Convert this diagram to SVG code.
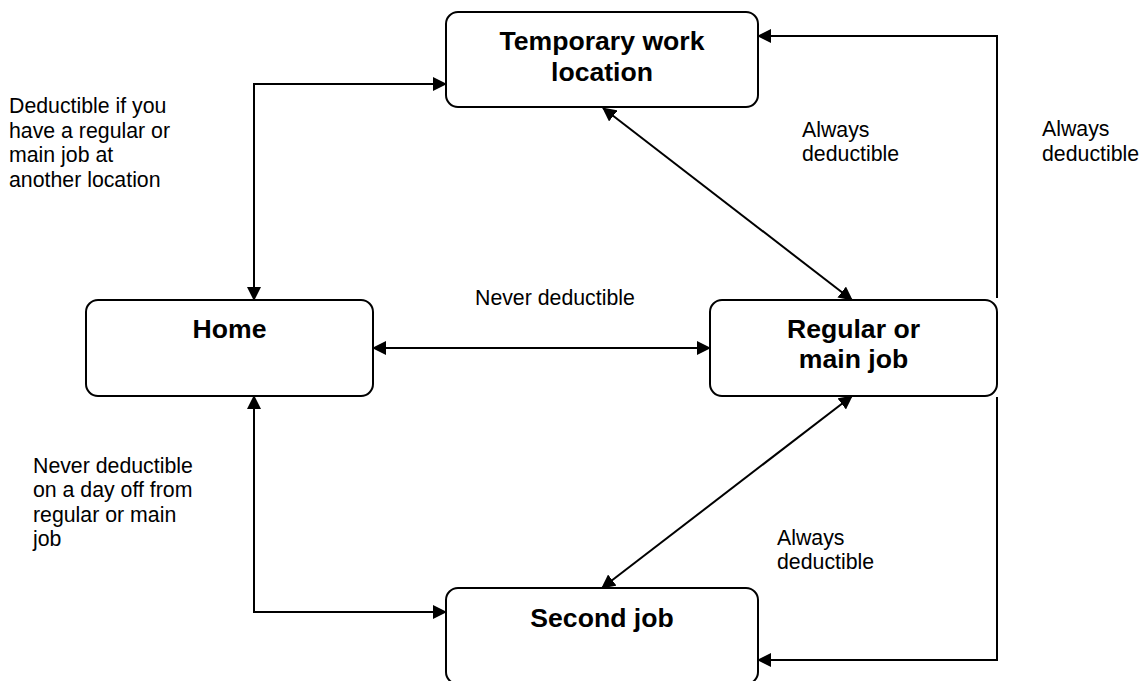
<svg xmlns="http://www.w3.org/2000/svg" width="1140" height="681" viewBox="0 0 1140 681">
<style>
.box{fill:#fff;stroke:#000;stroke-width:2}
.t{font-family:"Liberation Sans",Arial,sans-serif;font-weight:bold;font-size:26.6px;fill:#000;text-anchor:middle}
.l{font-family:"Liberation Sans",Arial,sans-serif;font-size:21.3px;fill:#000}
.c{fill:none;stroke:#000;stroke-width:2}
</style>
<defs>
<marker id="ah" viewBox="0 0 14 14" refX="13" refY="7" markerWidth="14" markerHeight="14" markerUnits="userSpaceOnUse" orient="auto-start-reverse">
<path d="M0,0 L14,7 L0,14 z" fill="#000"/>
</marker>
</defs>
<rect width="1140" height="681" fill="#fff"/>
<g id="connectors">
<path class="c" d="M254,300 V84 H446" marker-start="url(#ah)" marker-end="url(#ah)"/>
<path class="c" d="M254,396 V612 H446" marker-start="url(#ah)" marker-end="url(#ah)"/>
<path class="c" d="M373,348 H710" marker-start="url(#ah)" marker-end="url(#ah)"/>
<path class="c" d="M603,108 L852,300" marker-start="url(#ah)" marker-end="url(#ah)"/>
<path class="c" d="M852,396 L602,588" marker-start="url(#ah)" marker-end="url(#ah)"/>
<path class="c" d="M997,298 V36 H758" marker-end="url(#ah)"/>
<path class="c" d="M997,397 V660 H758" marker-end="url(#ah)"/>
</g>
<g id="node-temporary">
<rect class="box" x="446" y="12" width="312" height="95" rx="12"/>
<text class="t" x="602" y="50">Temporary work</text>
<text class="t" x="602" y="81">location</text>
</g>
<g id="node-home">
<rect class="box" x="86" y="300" width="287" height="96" rx="12"/>
<text class="t" x="229.5" y="338">Home</text>
</g>
<g id="node-regular">
<rect class="box" x="710" y="300" width="287" height="96" rx="12"/>
<text class="t" x="853.5" y="338">Regular or</text>
<text class="t" x="853.5" y="368">main job</text>
</g>
<g id="node-second">
<rect class="box" x="446" y="588" width="312" height="96" rx="12"/>
<text class="t" x="602" y="627">Second job</text>
</g>
<g id="labels">
<text class="l" x="9" y="113">Deductible if you</text>
<text class="l" x="9" y="138">have a regular or</text>
<text class="l" x="9" y="162">main job at</text>
<text class="l" x="9" y="187">another location</text>
<text class="l" x="802" y="137">Always</text>
<text class="l" x="802" y="161">deductible</text>
<text class="l" x="1042" y="136">Always</text>
<text class="l" x="1042" y="161">deductible</text>
<text class="l" x="475" y="305">Never deductible</text>
<text class="l" x="33" y="473">Never deductible</text>
<text class="l" x="33" y="497">on a day off from</text>
<text class="l" x="33" y="522">regular or main</text>
<text class="l" x="33" y="546">job</text>
<text class="l" x="777" y="545">Always</text>
<text class="l" x="777" y="569">deductible</text>
</g>
</svg>
